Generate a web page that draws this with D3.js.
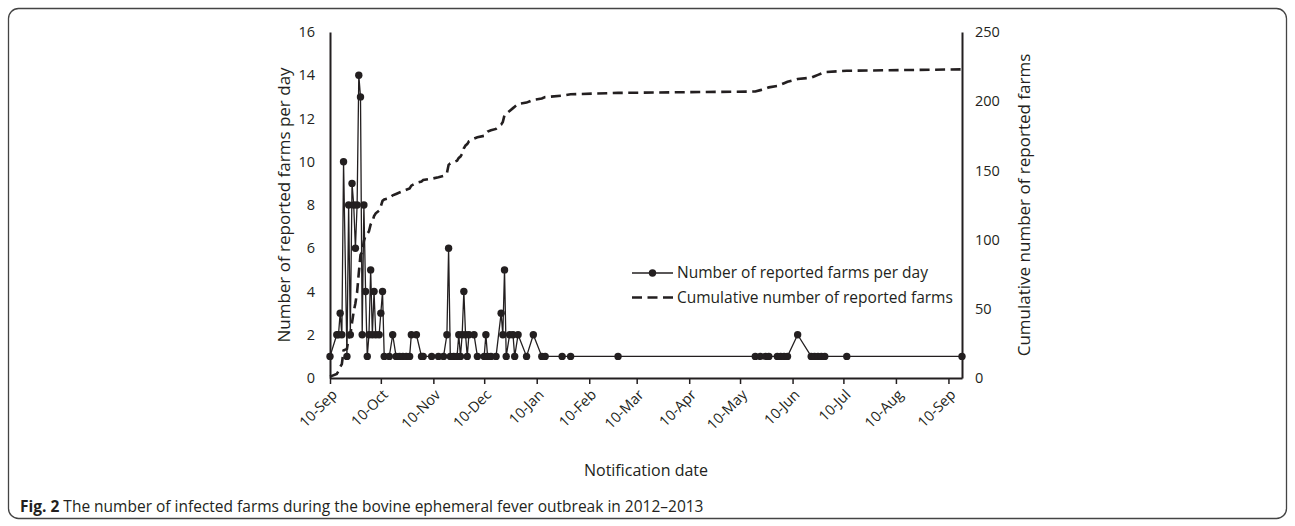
<!DOCTYPE html>
<html lang="en">
<head>
    <meta charset="UTF-8">
    <title>Infected farms, bovine ephemeral fever 2012-2013</title>
    <style>
        body { margin: 0; background: #fff; }
        svg { display: block; font-family: "Open Sans", sans-serif; }
    </style>
</head>
<body>
<svg id="chart"></svg>
<script src="https://d3js.org/d3.v7.min.js"></script>
<script>
    // notification dates and number of farms reported that day
    var dates = [
        "2012-09-10", "2012-09-14", "2012-09-15", "2012-09-16", "2012-09-17", "2012-09-18", "2012-09-20",
        "2012-09-21", "2012-09-22", "2012-09-23", "2012-09-24", "2012-09-25", "2012-09-26", "2012-09-27",
        "2012-09-28", "2012-09-29", "2012-09-30", "2012-10-01", "2012-10-02", "2012-10-03", "2012-10-04",
        "2012-10-05", "2012-10-06", "2012-10-07", "2012-10-09", "2012-10-10", "2012-10-11", "2012-10-12",
        "2012-10-15", "2012-10-17", "2012-10-19", "2012-10-21", "2012-10-23", "2012-10-25", "2012-10-27",
        "2012-10-28", "2012-10-31", "2012-11-03", "2012-11-04", "2012-11-09", "2012-11-13", "2012-11-16",
        "2012-11-18", "2012-11-19", "2012-11-20", "2012-11-22", "2012-11-24", "2012-11-25", "2012-11-26",
        "2012-11-27", "2012-11-28", "2012-11-29", "2012-11-30", "2012-12-01", "2012-12-04", "2012-12-06",
        "2012-12-10", "2012-12-11", "2012-12-12", "2012-12-14", "2012-12-17", "2012-12-20", "2012-12-21",
        "2012-12-22", "2012-12-23", "2012-12-25", "2012-12-27", "2012-12-28", "2012-12-30", "2013-01-04",
        "2013-01-08", "2013-01-13", "2013-01-15", "2013-01-25", "2013-01-30", "2013-02-27", "2013-05-19",
        "2013-05-22", "2013-05-25", "2013-05-27", "2013-06-01", "2013-06-03", "2013-06-05", "2013-06-07",
        "2013-06-13", "2013-06-21", "2013-06-23", "2013-06-25", "2013-06-27", "2013-06-29", "2013-07-12",
        "2013-09-18"
    ];
    var counts = [
        1, 2, 2, 3, 2, 10, 1,
        8, 2, 9, 8, 6, 8, 14,
        13, 2, 8, 4, 1, 2, 5,
        2, 4, 2, 2, 3, 4, 1,
        1, 2, 1, 1, 1, 1, 1,
        2, 2, 1, 1, 1, 1, 1,
        2, 6, 1, 1, 1, 2, 1,
        2, 4, 2, 1, 2, 2, 1,
        1, 2, 1, 1, 1, 3, 2,
        5, 1, 2, 2, 1, 2, 1,
        2, 1, 1, 1, 1, 1, 1,
        1, 1, 1, 1, 1, 1, 1,
        2, 1, 1, 1, 1, 1, 1,
        1
    ];
    var monthTicks = ["2012-09-10", "2012-10-10", "2012-11-10", "2012-12-10", "2013-01-10", "2013-02-10",
        "2013-03-10", "2013-04-10", "2013-05-10", "2013-06-10", "2013-07-10", "2013-08-10", "2013-09-10"];
    var leftTicks = [0, 2, 4, 6, 8, 10, 12, 14, 16];
    var rightTicks = [0, 50, 100, 150, 200, 250];
    var legendLabels = ["Number of reported farms per day", "Cumulative number of reported farms"];

    var width = 1295;
    var height = 526;
    var plotLeft = 330, plotRight = 962, plotTop = 32, plotBottom = 378;
    var ink = "#231f20";

    var parse = d3.timeParse("%Y-%m-%d");
    var days = dates.map(parse);
    var cumulative = Array.from(d3.cumsum(counts));

    var x = d3.scaleTime().domain([days[0], days[days.length - 1]]).range([plotLeft, plotRight]);
    var yLeft = d3.scaleLinear().domain([0, 16]).range([plotBottom, plotTop]);
    var yRight = d3.scaleLinear().domain([0, 250]).range([plotBottom, plotTop]);

    var svg = d3.select("#chart")
        .attr("width", width)
        .attr("height", height);

    svg.append("rect")
        .attr("x", 8.5).attr("y", 8.5)
        .attr("width", 1278).attr("height", 510)
        .attr("rx", 10)
        .style("fill", "none")
        .style("stroke", "#444")
        .style("stroke-width", 1.3);

    // axes
    var xAxis = svg.append("g")
        .attr("transform", "translate(0," + plotBottom + ")")
        .call(d3.axisBottom(x)
            .tickValues(monthTicks.map(parse))
            .tickFormat(d3.timeFormat("%d-%b"))
            .tickSizeInner(6)
            .tickSizeOuter(0));
    xAxis.selectAll("text")
        .attr("x", 0).attr("y", 0).attr("dy", "0.35em")
        .attr("transform", "translate(4,14) rotate(-45)")
        .style("text-anchor", "end");

    var leftAxis = svg.append("g")
        .attr("transform", "translate(" + plotLeft + ",0)")
        .call(d3.axisLeft(yLeft).tickValues(leftTicks).tickSize(0).tickPadding(15));

    var rightAxis = svg.append("g")
        .attr("transform", "translate(" + plotRight + ",0)")
        .call(d3.axisRight(yRight).tickValues(rightTicks).tickSize(0).tickPadding(13));

    svg.selectAll(".domain").style("stroke", ink).style("stroke-width", 2);
    svg.selectAll(".tick line").style("stroke", ink).style("stroke-width", 1.5);
    svg.selectAll(".tick text").style("fill", ink).style("font-size", "14.5px").style("font-family", "Open Sans");

    // cumulative dashed line
    svg.append("path")
        .datum(cumulative)
        .attr("d", d3.line()
            .x(function (d, i) { return x(days[i]); })
            .y(function (d) { return yRight(d); }))
        .style("fill", "none")
        .style("stroke", ink)
        .style("stroke-width", 2.6)
        .style("stroke-dasharray", "10,5.5");

    // daily line with markers
    svg.append("path")
        .datum(counts)
        .attr("d", d3.line()
            .x(function (d, i) { return x(days[i]); })
            .y(function (d) { return yLeft(d); }))
        .style("fill", "none")
        .style("stroke", ink)
        .style("stroke-width", 1.3);

    svg.append("g").selectAll("circle")
        .data(counts)
        .enter().append("circle")
        .attr("cx", function (d, i) { return x(days[i]); })
        .attr("cy", function (d) { return yLeft(d); })
        .attr("r", 3.7)
        .style("fill", ink);

    // axis titles
    svg.append("text")
        .attr("transform", "translate(284," + (plotTop + plotBottom) / 2 + ") rotate(-90)")
        .attr("text-anchor", "middle")
        .attr("dy", "0.35em")
        .style("font-size", "17px")
        .style("fill", ink)
        .text("Number of reported farms per day");

    svg.append("text")
        .attr("transform", "translate(1024," + (plotTop + plotBottom) / 2 + ") rotate(-90)")
        .attr("text-anchor", "middle")
        .attr("dy", "0.35em")
        .style("font-size", "17px")
        .style("fill", ink)
        .text("Cumulative number of reported farms");

    svg.append("text")
        .attr("x", (plotLeft + plotRight) / 2)
        .attr("y", 470)
        .attr("text-anchor", "middle")
        .attr("dy", "0.35em")
        .style("font-size", "16px")
        .style("fill", ink)
        .text("Notification date");

    // legend
    var legend = svg.append("g").attr("transform", "translate(632,273)");
    legend.append("line")
        .attr("x1", 0).attr("x2", 41).attr("y1", 0).attr("y2", 0)
        .style("stroke", ink).style("stroke-width", 1.3);
    legend.append("circle")
        .attr("cx", 20.5).attr("cy", 0).attr("r", 3.7)
        .style("fill", ink);
    legend.append("line")
        .attr("x1", 0).attr("x2", 41).attr("y1", 24.5).attr("y2", 24.5)
        .style("stroke", ink).style("stroke-width", 2.6)
        .style("stroke-dasharray", "10,5.5");
    legend.selectAll("text")
        .data(legendLabels)
        .enter().append("text")
        .attr("x", 45)
        .attr("y", function (d, i) { return i * 24.5; })
        .attr("dy", "0.35em")
        .style("font-size", "15.5px")
        .style("fill", ink)
        .text(function (d) { return d; });

    // caption
    var caption = svg.append("text")
        .attr("x", 20)
        .attr("y", 512)
        .style("font-size", "15.5px")
        .style("fill", ink);
    caption.append("tspan").style("font-weight", "bold").text("Fig. 2");
    caption.append("tspan").text(" The number of infected farms during the bovine ephemeral fever outbreak in 2012\u20132013");
</script>
</body>
</html>
